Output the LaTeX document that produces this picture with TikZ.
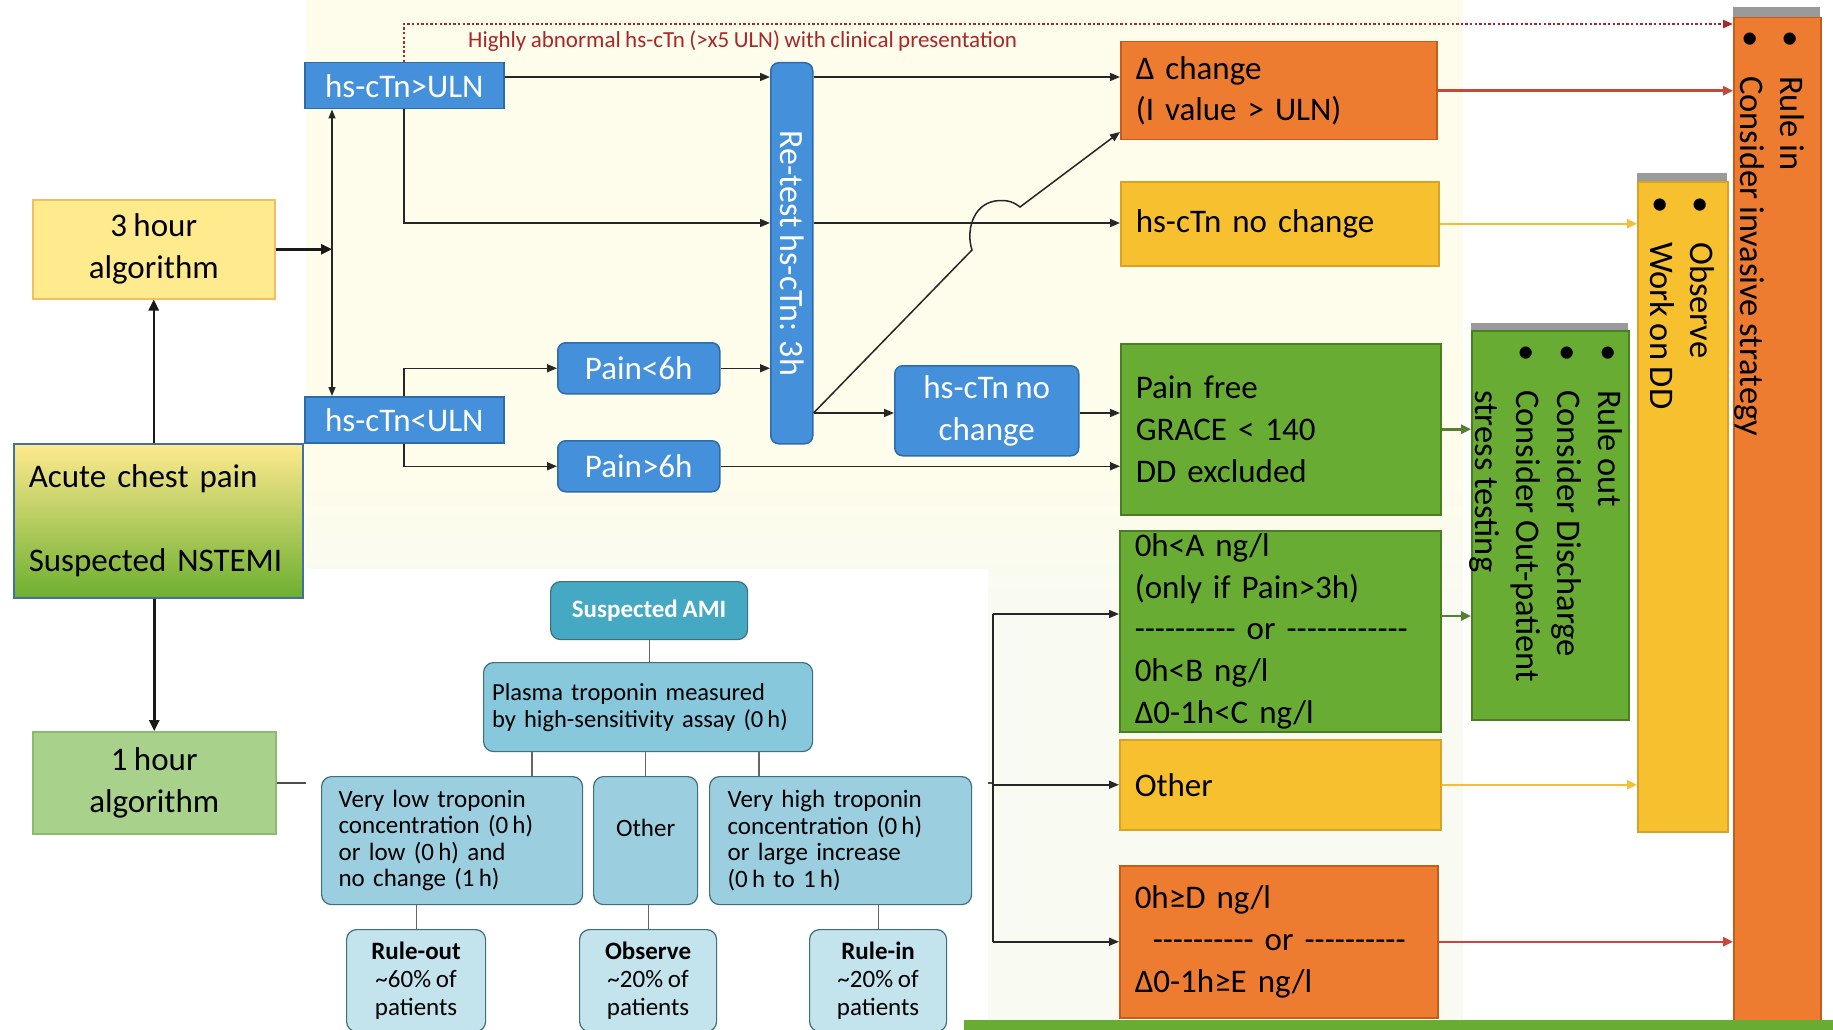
\documentclass[tikz,border=0pt]{standalone}
\usepackage{fontspec}
\setmainfont{Carlito}[WordSpace=0.85]
\usetikzlibrary{arrows.meta,calc}
\definecolor{cream}{HTML}{FEFCEB}
\definecolor{creamlow}{HTML}{F9FBF2}
\definecolor{bluefill}{HTML}{4590DA}
\definecolor{blueline}{HTML}{2E6CA8}
\definecolor{orfill}{HTML}{ED7B30}
\definecolor{orline}{HTML}{C45C1B}
\definecolor{yefill}{HTML}{F7C02F}
\definecolor{yeline}{HTML}{D9A224}
\definecolor{grfill}{HTML}{69AC33}
\definecolor{grline}{HTML}{4A7D24}
\definecolor{lyfill}{HTML}{FFEA8E}
\definecolor{lyline}{HTML}{F0BE63}
\definecolor{lgfill}{HTML}{A8D18C}
\definecolor{lgline}{HTML}{8CBB70}
\definecolor{acgreen}{HTML}{6DAF30}
\definecolor{acline}{HTML}{41719C}
\definecolor{redarrow}{HTML}{C8473A}
\definecolor{yearrow}{HTML}{F5BE38}
\definecolor{grarrow}{HTML}{557F35}
\definecolor{dotred}{HTML}{A8282A}
\definecolor{tealA}{HTML}{45A9C3}
\definecolor{tealB}{HTML}{88C8DC}
\definecolor{tealC}{HTML}{9BCFE0}
\definecolor{tealD}{HTML}{C3E3ED}
\definecolor{tealline}{HTML}{3F6E7D}
\definecolor{shadowgray}{HTML}{9A9A9A}
\newcommand\bul{\makebox[46pt][l]{•}}
\newcommand\hyd{-\kern0pt}
\newcommand\hydten{\hyd\hyd\hyd\hyd\hyd\hyd\hyd\hyd\hyd\hyd}
\begin{document}
\begin{tikzpicture}[x=1pt,y=-1pt,
  fs/.style={font=\fontsize{33}{41.8}\selectfont},
  rfs/.style={font=\fontsize{34.5}{41}\selectfont},
  nfs/.style={font=\fontsize{25}{26.5}\selectfont},
  sz/.style 2 args={minimum width=#1, minimum height=#2},
  bx/.style={anchor=north west, inner sep=0pt, line width=1.5pt, fs, align=center},
  lt/.style={text width=#1, align=left, inner xsep=15pt},
  bluesq/.style={bx, fill=bluefill, draw=blueline, text=white},
  bluerd/.style={bluesq, rounded corners=8pt},
  orbox/.style={bx, fill=orfill, draw=orline},
  yebox/.style={bx, fill=yefill, draw=yeline},
  grbox/.style={bx, fill=grfill, draw=grline},
  lybox/.style={bx, fill=lyfill, draw=lyline},
  lgbox/.style={bx, fill=lgfill, draw=lgline},
  rl/.style={rotate=-90, anchor=base west, inner sep=0pt, rfs},
  nat/.style={anchor=north west, inner sep=0pt, line width=1.2pt, rounded corners=10pt, draw=tealline, nfs, align=center},
  arr/.style={line width=1.5pt, draw=black!85, -{Triangle[length=10pt,width=8pt]}},
  arrthick/.style={line width=2.5pt, draw=black!90, -{Triangle[length=11pt,width=10pt]}},
  darr/.style={line width=1.5pt, draw=black!85, {Triangle[length=9pt,width=7pt]}-{Triangle[length=9pt,width=7pt]}},
  carr/.style={line width=2.5pt, draw=#1, -{Triangle[length=10pt,width=9pt]}},
  nline/.style={draw=black!60, line width=1.2pt}
]
\useasboundingbox (0,0) rectangle (1833,1030);
% backgrounds
\fill[white] (0,0) rectangle (1833,1030);
\fill[cream] (306,0) rectangle (1463,480);
\shade[top color=cream, bottom color=creamlow] (306,480) rectangle (1463,600);
\fill[creamlow] (306,600) rectangle (1463,1030);

% coordinates
\coordinate (XA) at (404,0);
\coordinate (XD) at (332,0);
\coordinate (XB) at (993,0);
\coordinate (Y24) at (0,24);
\coordinate (Y77) at (0,77);
\coordinate (Y132) at (0,132);
\coordinate (Y223) at (0,223);
\coordinate (Y413) at (0,413);
\coordinate (Y614) at (0,614);
\coordinate (Y616) at (0,616);
\coordinate (H1) at (972,250);
\coordinate (H2) at (1020,207);
\coordinate (N1) at (532,0);
\coordinate (N3) at (759,0);

% 1 hour algorithm and its line (runs beneath the inset)
\node[lgbox, sz={243}{102}] (one) at (32,731) {1 hour\\algorithm};
\draw[line width=2pt, draw=black!70] (one.east) -- (XB |- one.east);

% inset panel
\fill[white] (306,569) rectangle (988,1030);

% left boxes
\node[lybox, sz={242}{99}] (three) at (32,199) {3 hour\\algorithm};
\node[bx, sz={289}{154}, lt=259, top color=lyfill, bottom color=acgreen, middle color=lyfill!50!acgreen, draw=acline] (acute) at (13,443) {Acute chest pain\\[43pt]Suspected NSTEMI};

% blue boxes
\node[bluesq, sz={199}{46}] (hi) at (304,62) {hs-cTn>ULN};
\node[bluesq, sz={199}{46}] (lo) at (304,396) {hs-cTn<ULN};
\node[bluerd, sz={162}{51}] (pl) at (557,342) {Pain<6h};
\node[bluerd, sz={162}{51}] (pg) at (557,440) {Pain>6h};
\node[bluerd, sz={42}{381}] (rt) at (770,62) {};
\node[rotate=-90, text=white, font=\fontsize{34}{41}\selectfont, inner sep=0pt] (rtT) at (rt.center) {Re-test hs-cTn: 3h};
\node[bluerd, sz={184}{90}] (bn) at (894,365) {hs-cTn no\\change};

% result boxes
\node[orbox, sz={316}{98}, lt=286] (dc) at (1120,41) {Δ change\\(I value > ULN)};
\node[yebox, sz={318}{84}, lt=288] (nc) at (1120,181) {hs-cTn no change};
\node[grbox, sz={320}{171}, lt=290] (pf) at (1120,343) {Pain free\\GRACE < 140\\DD excluded};
\node[grbox, sz={321}{201}, lt=291] (a1) at (1119,530) {0h<A ng/l\\(only if Pain>3h)\\\hydten\ or\ \hydten\hyd\hyd\\0h<B ng/l\\Δ0-1h<C ng/l};
\node[yebox, sz={321}{90}, lt=291] (ot) at (1119,739) {Other};
\node[orbox, sz={318}{152}, lt=288] (d1) at (1119,865) {0h≥D ng/l\\\hspace*{18pt}\hydten\ or\ \hydten\\Δ0-1h≥E ng/l};

% vertical outcome boxes
\fill[shadowgray] (1471,323) rectangle (1628,331);
\node[grbox, sz={157}{389}] (ro) at (1471,330) {};
\fill[shadowgray] (1637,173) rectangle (1727,182);
\node[yebox, sz={90}{650}] (ob) at (1637,181) {};
\fill[shadowgray] (1733,7) rectangle (1820,18);
\node[orbox, sz={87}{1020}] (ri) at (1733,17) {};
\fill[grfill] (964,1020) rectangle (1833,1030);

\node[rl] (ri1) at (1780,30) {\bul Rule in};
\node[rl] (ri2) at (1740,30) {\bul Consider invasive strategy};
\node[rl] (ob1) at (1690,196) {\bul Observe};
\node[rl] (ob2) at (1650,196) {\bul Work on DD};
\node[rl] (ro1) at (1598,344) {\bul Rule out};
\node[rl] (ro2) at (1557,344) {\bul Consider Discharge};
\node[rl] (ro3) at (1516,344) {\bul Consider Out-patient};
\node[rl] (ro4) at (1475,344) {\makebox[46pt]{}stress testing};

% dotted fast track
\node[font=\fontsize{23}{26}\selectfont, text=dotred, anchor=base west, inner sep=0pt] (hlab) at (468,48) {Highly abnormal hs-cTn (>x5 ULN) with clinical presentation};
\draw[draw=dotred, line width=2.6pt, dash pattern=on 2.4pt off 2.2pt, -{Triangle[length=10pt,width=8pt]}] (XA |- hi.north) |- (ri.west |- Y24);

% left connectors
\draw[arrthick] (acute.north -| three.south) -- (three.south);
\draw[arrthick] (acute.south -| one.north) -- (one.north);
\draw[arrthick] (three.east) -- (XD |- three.east);
\draw[darr] (XD |- hi.south) -- (XD |- lo.north);

% 3 hour connectors
\draw[arr] (hi.east |- Y77) -- (rt.west |- Y77);
\draw[arr] (rt.east |- Y77) -- (dc.west |- Y77);
\draw[arr] (XA |- hi.south) |- (rt.west |- Y223);
\draw[arr] (rt.east |- Y223) -- (nc.west |- Y223);
\draw[arr] (XA |- lo.north) |- (pl.west);
\draw[arr] (XA |- lo.south) |- (pg.west);
\draw[arr] (pl.east) -- (rt.west |- pl.east);
\draw[arr] (pg.east) -- (pf.west |- pg.east);
\draw[arr] (rt.east |- Y413) -- (bn.west |- Y413);
\draw[arr] (bn.east |- Y413) -- (pf.west |- Y413);
\draw[arr] (rt.east |- Y413) -- (H1) .. controls (966,232) and (972,205) .. (995,201) .. controls (1008,199) and (1015,203) .. (H2) -- (dc.west |- Y132);

% 1 hour bracket
\draw[line width=1.5pt, draw=black!85] (XB |- Y614) -- (XB |- d1.west);
\draw[arr] (XB |- Y614) -- (a1.west |- Y614);
\draw[arr] (XB |- ot.west) -- (ot.west);
\draw[arr] (XB |- d1.west) -- (d1.west);

% coloured outcome arrows
\draw[carr=redarrow] (dc.east) -- (ri.west |- dc.east);
\draw[carr=yearrow] (nc.east) -- (ob.west |- nc.east);
\draw[carr=grarrow] (pf.east) -- (ro.west |- pf.east);
\draw[carr=grarrow] (a1.east |- Y616) -- (ro.west |- Y616);
\draw[carr=yearrow] (ot.east) -- (ob.west |- ot.east);
\draw[carr=redarrow] (d1.east) -- (ri.west |- d1.east);

% inset figure
\node[nat, fill=tealA, text=white, sz={197}{58}] (ami) at (550,581) {\bfseries Suspected AMI};
\node[nat, fill=tealB, sz={329}{89}, text width=312, align=left, font=\fontsize{24.5}{27}\selectfont] (ptm) at (483,662) {Plasma troponin measured\\by high-sensitivity assay (0\,h)};
\node[nat, fill=tealC, sz={261}{128}, text width=227, inner xsep=17pt, align=left] (vl) at (321,776) {Very low troponin\\concentration (0\,h)\\or low (0\,h) and\\no change (1\,h)};
\node[nat, fill=tealC, sz={104}{128}] (ot2) at (593,776) {\raisebox{25pt}{Other}};
\node[nat, fill=tealC, sz={262}{128}, text width=226, inner xsep=18pt, align=left] (vh) at (709,776) {Very high troponin\\concentration (0\,h)\\or large increase\\(0\,h to 1\,h)};
\node[nat, fill=tealD, sz={139}{102}, font=\fontsize{25}{28}\selectfont] (rout) at (346,929) {\textbf{Rule-out}\\\textasciitilde 60\% of\\patients};
\node[nat, fill=tealD, sz={137}{102}, font=\fontsize{25}{28}\selectfont] (obs) at (579,929) {\textbf{Observe}\\\textasciitilde 20\% of\\patients};
\node[nat, fill=tealD, sz={137}{102}, font=\fontsize{25}{28}\selectfont] (rin) at (809,929) {\textbf{Rule-in}\\\textasciitilde 20\% of\\patients};
\draw[nline] (ami.south) -- (ami.south |- ptm.north);
\draw[nline] (N1 |- ptm.south) -- (N1 |- vl.north);
\draw[nline] (ot2.north) -- (ot2.north |- ptm.south);
\draw[nline] (N3 |- ptm.south) -- (N3 |- vh.north);
\draw[nline] (rout.north) -- (rout.north |- vl.south);
\draw[nline] (obs.north) -- (obs.north |- ot2.south);
\draw[nline] (rin.north) -- (rin.north |- vh.south);
\end{tikzpicture}
\end{document}
